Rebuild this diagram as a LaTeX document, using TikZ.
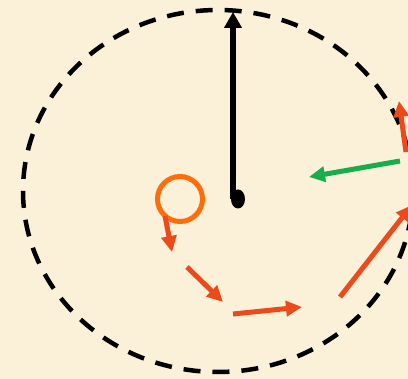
\documentclass[tikz,border=0pt]{standalone}
\usepackage{xcolor}
\usetikzlibrary{arrows.meta,shapes.geometric}
\definecolor{parch}{RGB}{251,240,216}
\definecolor{kick}{RGB}{236,74,26}
\definecolor{ringc}{RGB}{255,108,12}
\definecolor{pull}{RGB}{24,172,76}

\begin{document}
\begin{tikzpicture}[x=1pt,y=-1pt,
  orbit/.style={draw=black,line width=4.5pt,dash pattern=on 17pt off 12pt},
  ar/.style={line width=5pt,-{Triangle[length=16pt,width=15pt]}},
  hand/.style={line width=5.5pt,-{Triangle[length=16pt,width=17pt]}}
]
\fill[parch] (0,0) rectangle (408,379);
\useasboundingbox (0,0) rectangle (408,379);
\clip (0,0) rectangle (408,379);
% the path
\draw[orbit,dash phase=6pt] (218,191) ellipse [x radius=195,y radius=181];
% centre and pointer
\node[fill=black,ellipse,minimum width=14pt,minimum height=19pt,inner sep=0pt] (hub) at (238,199) {};
\coordinate (top) at (233,12);
\coordinate (base) at (233,199);
\draw[hand] (base) -- (top);
% the small ring
\node[draw=ringc,line width=5pt,circle,minimum size=45pt,inner sep=0pt] (ring) at (180,199) {};
% steps
\coordinate (s1) at (165,216); \coordinate (e1) at (172,252);
\coordinate (s2) at (187,267); \coordinate (e2) at (223,302);
\coordinate (s3) at (233,314); \coordinate (e3) at (302,307);
\coordinate (s4) at (340,297); \coordinate (e4) at (412,205);
\coordinate (s5) at (406,152); \coordinate (e5) at (399,101);
\draw[ar,kick] (s1) -- (e1);
\draw[ar,kick] (s2) -- (e2);
\draw[ar,kick] (s3) -- (e3);
\draw[ar,kick] (s4) -- (e4);
\draw[ar,kick] (s5) -- (e5);
% pull back
\coordinate (g1) at (400,161); \coordinate (g2) at (309,177);
\draw[ar,pull] (g1) -- (g2);
\end{tikzpicture}
\end{document}
